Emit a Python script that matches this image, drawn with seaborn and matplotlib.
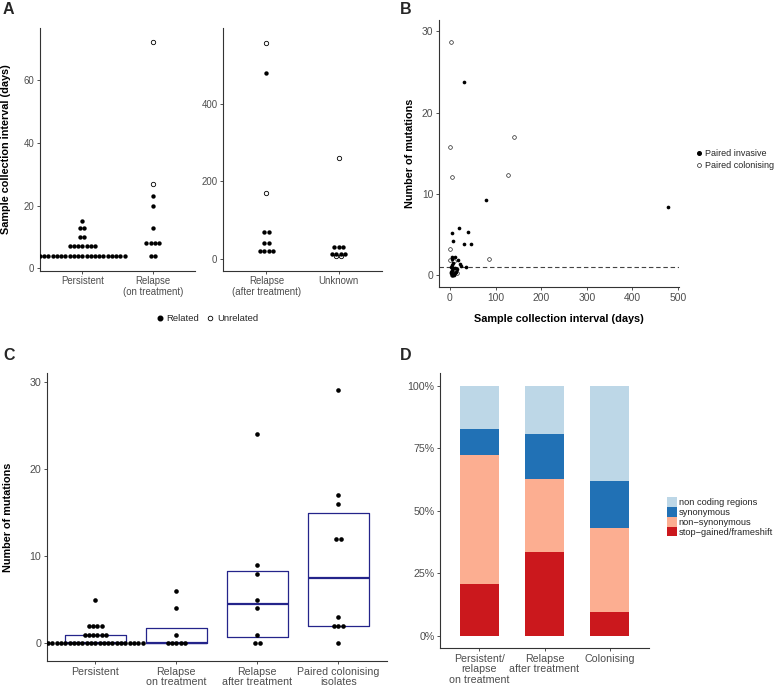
import numpy as np
import pandas as pd
import matplotlib
matplotlib.use("Agg")
import matplotlib.pyplot as plt
import seaborn as sns
from matplotlib.lines import Line2D
from matplotlib.patches import Patch
from matplotlib.ticker import PercentFormatter

# ---------------- Data ----------------
# Panel A: sample collection interval (days); rows of identical values (value, count, related?)
a_left_groups = ["Persistent", "Relapse\n(on treatment)"]
a_right_groups = ["Relapse\n(after treatment)", "Unknown"]

a_persistent_vals = [4, 7, 10, 13, 15]
a_persistent_counts = [21, 7, 2, 2, 1]
a_persistent_related = [True, True, True, True, True]

a_relon_vals = [4, 8, 13, 20, 23, 27, 72]
a_relon_counts = [2, 4, 1, 1, 1, 1, 1]
a_relon_related = [True, True, True, True, True, False, False]

a_relafter_vals = [22, 41, 70, 170, 478, 556]
a_relafter_counts = [4, 2, 2, 1, 1, 1]
a_relafter_related = [True, True, True, False, True, False]

a_unknown_vals = [8, 15, 32, 260]
a_unknown_counts = [2, 4, 3, 1]
a_unknown_related = [False, True, True, False]

# Panel B: interval (days) vs number of mutations
b_inv_days = [31, 80, 478, 20, 39, 4, 7, 30, 47, 36, 4, 12, 17, 23, 25, 4, 6, 3, 7, 4,
              10, 3, 5, 8, 2, 6, 9, 11, 4, 13, 15, 5]
b_inv_mut = [23.8, 9.2, 8.4, 5.8, 5.3, 5.1, 4.2, 3.8, 3.8, 1.0, 2.2, 2.2, 1.8, 1.3, 1.1, 1.2,
             0.8, 0.3, 0.0, 0.0, 0.9, 1.0, 0.5, 0.1, 0.2, 1.5, 0.0, 0.2, 0.6, 0.4, 0.7, 1.9]
b_col_days = [3, 0, 5, 140, 128, 0, 86, 0, 9, 13, 16, 5]
b_col_mut = [28.7, 15.8, 12.0, 17.0, 12.3, 3.2, 2.0, 1.8, 1.7, 0.5, 0.2, 0.0]
b_threshold = 1

# Panel C: number of mutations per group (value, count)
c_groups = ["Persistent", "Relapse\non treatment", "Relapse\nafter treatment",
            "Paired colonising\nisolates"]
c_persistent_vals, c_persistent_counts = [0, 1, 2, 5], [23, 6, 4, 1]
c_relon_vals, c_relon_counts = [0, 1, 4, 6], [5, 1, 1, 1]
c_relafter_vals, c_relafter_counts = [0, 1, 4, 5, 8, 9, 24], [2, 1, 1, 1, 1, 1, 1]
c_col_vals, c_col_counts = [0, 2, 3, 12, 16, 17, 29], [1, 3, 1, 2, 1, 1, 1]

# Panel D: proportions of mutation types
d_groups = ["Persistent/\nrelapse\non treatment", "Relapse\nafter treatment", "Colonising"]
d_types = ["non coding regions", "synonymous", "non\u2212synonymous", "stop\u2212gained/frameshift"]
d_stop = [0.205, 0.333, 0.095]
d_nonsyn = [0.519, 0.292, 0.335]
d_syn = [0.104, 0.180, 0.190]
d_noncoding = [0.172, 0.195, 0.380]
d_colors = ["#BDD7E7", "#2171B5", "#FCAE91", "#CB181D"]

# ---------------- Style ----------------
sns.set_theme(style="white")
plt.rcParams["font.family"] = ["Liberation Sans", "DejaVu Sans"]
plt.rcParams.update({
    "axes.edgecolor": "#333333",
    "axes.linewidth": 0.8,
    "xtick.color": "#333333",
    "ytick.color": "#333333",
    "xtick.labelcolor": "#4D4D4D",
    "ytick.labelcolor": "#4D4D4D",
    "xtick.major.size": 2.5,
    "ytick.major.size": 2.5,
    "xtick.major.width": 0.6,
    "ytick.major.width": 0.6,
    "xtick.major.pad": 1.5,
    "ytick.major.pad": 1.5,
    "xtick.bottom": True,
    "ytick.left": True,
})

W, H = 776, 686
fig = plt.figure(figsize=(W / 100, H / 100), dpi=100)


def px_axes(l, t, r, b):
    return fig.add_axes([l / W, 1 - b / H, (r - l) / W, (b - t) / H])


def classic(ax):
    sns.despine(ax=ax)
    ax.grid(False)


def tight_lines(ax, spacing):
    for t in ax.get_xticklabels():
        t.set_linespacing(spacing)


def dot_rows(ax, center, vals, counts, related, step, s):
    order = sorted(range(len(vals)), key=lambda i: related[i])
    for i in order:
        n = counts[i]
        xs = center + (np.arange(n) - (n - 1) / 2) * step
        ys = np.full(n, vals[i], dtype=float)
        if related[i]:
            ax.scatter(xs, ys, s=s, color="black", linewidths=0, zorder=3)
        else:
            ax.scatter(xs, ys, s=s, facecolor="white", edgecolor="black",
                       linewidths=0.6, zorder=3)


# ---------------- Panel A ----------------
axA1 = px_axes(40, 28, 195, 270.7)
axA2 = px_axes(223, 28, 382, 270.7)
stepA, sA = 0.06, 10
dot_rows(axA1, 0, a_persistent_vals, a_persistent_counts, a_persistent_related, stepA, sA)
dot_rows(axA1, 1, a_relon_vals, a_relon_counts, a_relon_related, stepA, sA)
dot_rows(axA2, 0, a_relafter_vals, a_relafter_counts, a_relafter_related, stepA, sA)
dot_rows(axA2, 1, a_unknown_vals, a_unknown_counts, a_unknown_related, stepA, sA)
for ax, groups, ylim, yt in [(axA1, a_left_groups, (-0.76, 76.6), [0, 20, 40, 60]),
                             (axA2, a_right_groups, (-29, 594), [0, 200, 400])]:
    classic(ax)
    ax.set_xlim(-0.6, 1.6)
    ax.set_ylim(*ylim)
    ax.set_xticks([0, 1])
    ax.set_xticklabels(groups, fontsize=6.9)
    ax.set_yticks(yt)
    ax.tick_params(axis="y", labelsize=6.9)
    tight_lines(ax, 1.1)
axA1.set_ylabel("Sample collection interval (days)", fontsize=7.8, weight="bold", color="black")
axA1.yaxis.set_label_coords(-0.19, 0.5)

legA = [Line2D([], [], marker="o", ls="", color="black", markersize=3.3, label="Related"),
        Line2D([], [], marker="o", ls="", markerfacecolor="white", markeredgecolor="black",
               markeredgewidth=0.6, markersize=3.3, label="Unrelated")]
fig.legend(handles=legA, loc="center", bbox_to_anchor=(207 / W, 1 - 319 / H), ncol=2,
           frameon=False, fontsize=6.8, handlelength=0.8, handletextpad=0.3,
           columnspacing=0.8, borderpad=0)

# ---------------- Panel B ----------------
axB = px_axes(439, 20, 679, 287)
dfB_inv = pd.DataFrame({"days": b_inv_days, "mut": b_inv_mut})
dfB_col = pd.DataFrame({"days": b_col_days, "mut": b_col_mut})
sns.scatterplot(data=dfB_col, x="days", y="mut", ax=axB, s=7, facecolor="white",
                edgecolor="#222222", linewidth=0.5, zorder=3)
sns.scatterplot(data=dfB_inv, x="days", y="mut", ax=axB, s=7, color="black",
                linewidth=0, zorder=4)
axB.axhline(b_threshold, color="#444444", lw=0.8, ls=(0, (4, 2.5)), zorder=2)
classic(axB)
axB.set_xlim(-24, 502)
axB.set_ylim(-1.5, 31.4)
axB.set_xticks([0, 100, 200, 300, 400, 500])
axB.set_yticks([0, 10, 20, 30])
axB.tick_params(labelsize=7.4)
axB.set_xlabel("Sample collection interval (days)", fontsize=7.8, weight="bold", color="black")
axB.set_ylabel("Number of mutations", fontsize=7.8, weight="bold", color="black")
axB.xaxis.set_label_coords(0.5, -0.1)
axB.xaxis.label.set_va("top")
axB.yaxis.set_label_coords(-0.1, 0.5)
legB = [Line2D([], [], marker="o", ls="", color="black", markersize=2.6, label="Paired invasive"),
        Line2D([], [], marker="o", ls="", markerfacecolor="white", markeredgecolor="#222222",
               markeredgewidth=0.5, markersize=2.8, label="Paired colonising")]
fig.legend(handles=legB, loc="center left", bbox_to_anchor=(691 / W, 1 - 159.5 / H),
           frameon=False, fontsize=6.5, handlelength=0.7, handletextpad=0.35,
           labelspacing=0.3, borderpad=0)

# ---------------- Panel C ----------------
axC = px_axes(46.7, 373, 387, 661)
c_vals = [c_persistent_vals, c_relon_vals, c_relafter_vals, c_col_vals]
c_counts = [c_persistent_counts, c_relon_counts, c_relafter_counts, c_col_counts]
dfC = pd.concat([pd.DataFrame({"group": g, "value": np.repeat(v, n)})
                 for g, v, n in zip(c_groups, c_vals, c_counts)], ignore_index=True)
box_col = "#24248A"
sns.boxplot(data=dfC, x="group", y="value", order=c_groups, whis=0, showfliers=False,
            showcaps=False, fill=False, color=box_col, width=0.75, linewidth=0.9,
            medianprops=dict(linewidth=1.6, color=box_col),
            whiskerprops=dict(linewidth=0), ax=axC)
for i, (v, n) in enumerate(zip(c_vals, c_counts)):
    dot_rows(axC, i, v, n, [True] * len(v), 0.053, 11)
classic(axC)
axC.set_xlim(-0.6, 3.6)
axC.set_ylim(-2.03, 31.0)
axC.set_yticks([0, 10, 20, 30])
axC.set_xlabel("")
axC.tick_params(labelsize=7.7)
tight_lines(axC, 1.05)
axC.set_ylabel("Number of mutations", fontsize=7.8, weight="bold", color="black")
axC.yaxis.set_label_coords(-0.098, 0.5)

# ---------------- Panel D ----------------
axD = px_axes(440, 373, 649, 648.3)
layers = [d_stop, d_nonsyn, d_syn, d_noncoding]
cum = np.cumsum(np.array(layers), axis=0)
# draw tallest first so lower segments sit on top
for k in range(len(layers) - 1, -1, -1):
    sns.barplot(x=d_groups, y=cum[k], order=d_groups, color=d_colors[::-1][k],
                saturation=1, width=0.6, linewidth=0, errorbar=None, ax=axD)
classic(axD)
axD.set_xlim(-0.6, 2.6)
axD.set_ylim(-0.05, 1.05)
axD.set_yticks([0, 0.25, 0.5, 0.75, 1.0])
axD.yaxis.set_major_formatter(PercentFormatter(1.0, decimals=0))
axD.tick_params(labelsize=7.7)
tight_lines(axD, 1.05)
axD.set_xlabel("")
axD.set_ylabel("")
legD = [Patch(facecolor=c, edgecolor="none", label=t) for t, c in zip(d_types, d_colors)]
fig.legend(handles=legD, loc="center left", bbox_to_anchor=(662 / W, 1 - 517 / H),
           frameon=False, fontsize=6.7, handlelength=1.1, handleheight=1.2,
           handletextpad=0.2, labelspacing=0.0, borderpad=0)

# ---------------- Panel letters ----------------
for lab, x, y in [("A", 3, 10), ("B", 400, 10), ("C", 3, 355), ("D", 400, 355)]:
    fig.text(x / W, 1 - y / H, lab, fontsize=11.5, weight="bold", va="center", ha="left")

fig.savefig("out.png", dpi=100)
